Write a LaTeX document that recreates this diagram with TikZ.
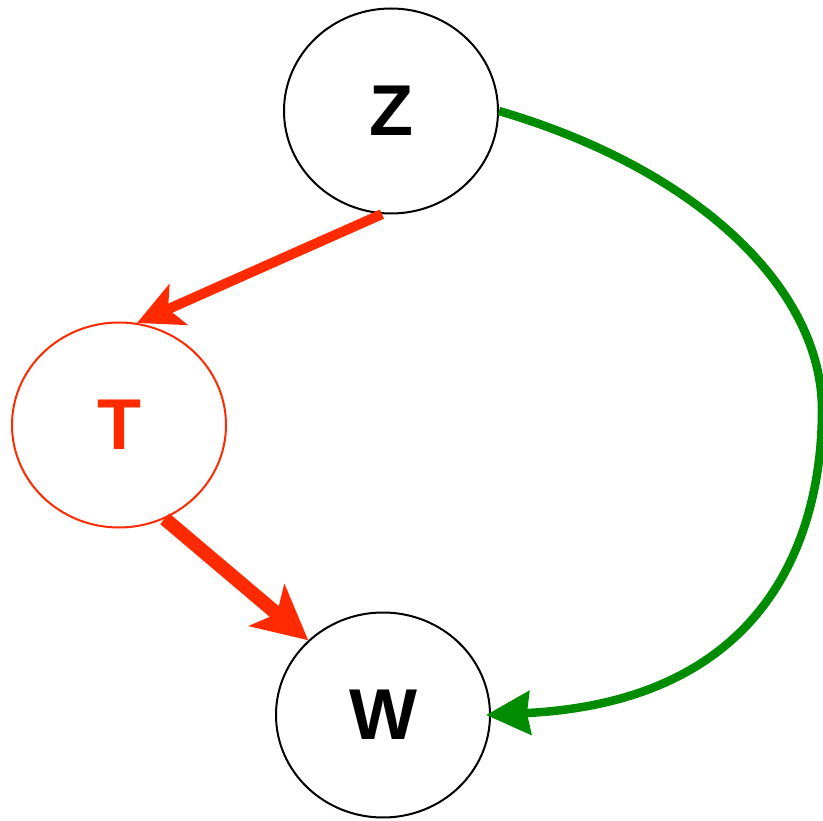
\documentclass[tikz,border=0pt]{standalone}
\usepackage{fontspec}
\setmainfont{Liberation Sans}
\usepackage{tikz}
\usetikzlibrary{arrows.meta,shapes.geometric}
\definecolor{CauseRed}{HTML}{FF2A00}
\definecolor{PathGreen}{HTML}{008C00}

\begin{document}
\begin{tikzpicture}[
    x=1pt, y=-1pt,
    var/.style={ellipse, draw, line width=2pt, minimum width=214pt, minimum height=205pt,
      inner sep=0pt, font=\fontsize{72}{72}\selectfont\bfseries},
    redarrow/.style={CauseRed, -{Stealth[length=45pt,width=44pt,inset=11pt]}},
  ]
    \useasboundingbox (0,0) rectangle (823,821);

    % ---- 变量 ----
    \node[var] (Z) at (391,111) {Z};
    \node[var, draw=CauseRed, text=CauseRed] (T) at (119,425) {T};
    \node[var] (W) at (383,715) {W};

    % ---- 箭头 ----
    \draw[redarrow, line width=10pt] (Z.265) -- (T.80);
    \draw[redarrow, line width=14pt, -{Stealth[length=54pt,width=54pt,inset=13pt]}] (T.296) -- (W.135);
    \coordinate (bend) at (822,410);
    \draw[PathGreen, line width=8.5pt, -{Stealth[length=44pt,width=43pt,inset=3pt]}]
      (Z.east) .. controls (700,170) and (822,290) .. (bend)
      .. controls (822,490) and (800,700) .. ([xshift=-5pt]W.east);
\end{tikzpicture}
\end{document}
